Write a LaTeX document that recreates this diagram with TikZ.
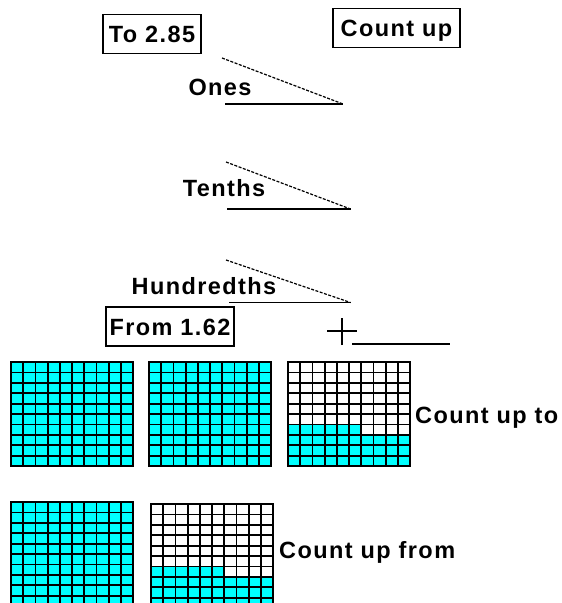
\documentclass[tikz,border=0pt]{standalone}
\usepackage{fontspec}
\newfontfamily\lbfont{Liberation Sans}[LetterSpace=6]
\usetikzlibrary{positioning}
\definecolor{gridcyan}{HTML}{00FFFF}

% 10x10 hundreds grid: name, left x, top y, cells filled from the bottom
\newcommand{\hgrid}[4]{%
  \begin{scope}[shift={(#2,#3)}]
    \foreach \k in {1,...,#4}{
      \pgfmathtruncatemacro{\gcol}{mod(\k-1,10)}
      \pgfmathtruncatemacro{\grow}{int((\k-1)/10)}
      \fill[gridcyan] (\gcol*12.2,104-\grow*10.4) rectangle ++(12.2,-10.4);
    }
    \foreach \i in {0,...,10}{
      \draw[gridln] (\i*12.2,0) -- (\i*12.2,104);
      \draw[gridln] (0,\i*10.4) -- (122,\i*10.4);
    }
    \coordinate (#1) at (122,52);
  \end{scope}}

\begin{document}
\begin{tikzpicture}[
x=1pt,y=-1pt,
lbl/.style={font=\lbfont\bfseries\fontsize{23.5}{26}\selectfont,inner sep=0pt,
text height=17pt,text depth=0pt},
box/.style={lbl,draw,line width=1.5pt,minimum height=39pt},
dotln/.style={line width=1.2pt,dash pattern=on 3pt off 1.5pt},
solidln/.style={line width=1.8pt},
gridln/.style={line width=1.8pt,line cap=rect}
]
\useasboundingbox (0,0) rectangle (562,603);
\clip (0,0) rectangle (562,603);

\node[box,minimum width=98pt]  (to)      at (152,34)    {To 2.85};
\node[box,minimum width=127pt] (countup) at (396.5,28)  {Count up};
\node[lbl] (ones)   at (220,86.5) {Ones};
\node[lbl] (tenths) at (224,188)  {Tenths};
\node[lbl] (hundr)  at (204,286)  {Hundredths};
\node[box,minimum width=128pt] (from)    at (170,326.5) {From 1.62};

% place value marks
\coordinate (onesTip)   at (343,104);
\coordinate (tenthsTip) at (350.5,209);
\coordinate (hundrTip)  at (350.5,302.5);
\draw[dotln]   (222,58)    -- (onesTip);
\draw[solidln] (225,104)   -- (onesTip);
\draw[dotln]   (226,162)   -- (tenthsTip);
\draw[solidln] (227,209)   -- (tenthsTip);
\draw[dotln]   (226,260)   -- (hundrTip);
\draw[solidln] (229,302.5) -- (hundrTip);

% plus and answer line
\coordinate (plus) at (342,331);
\draw[line width=1.6pt] ([xshift=-15pt]plus) -- ([xshift=15pt]plus);
\draw[line width=1.6pt] ([yshift=-14pt]plus) -- ([yshift=13pt]plus);
\draw[solidln] (352,344) -- (450,344);

% grids
\hgrid{g1}{11}{362}{100}
\hgrid{g2}{149}{362}{100}
\hgrid{g3}{288}{362}{36}
\hgrid{g4}{11}{502}{100}
\hgrid{g5}{151}{504}{36}

\node[lbl,anchor=west] (upto)   at (415,415) {Count up to};
\node[lbl,anchor=west] (upfrom) at (279,550) {Count up from};
\end{tikzpicture}
\end{document}
